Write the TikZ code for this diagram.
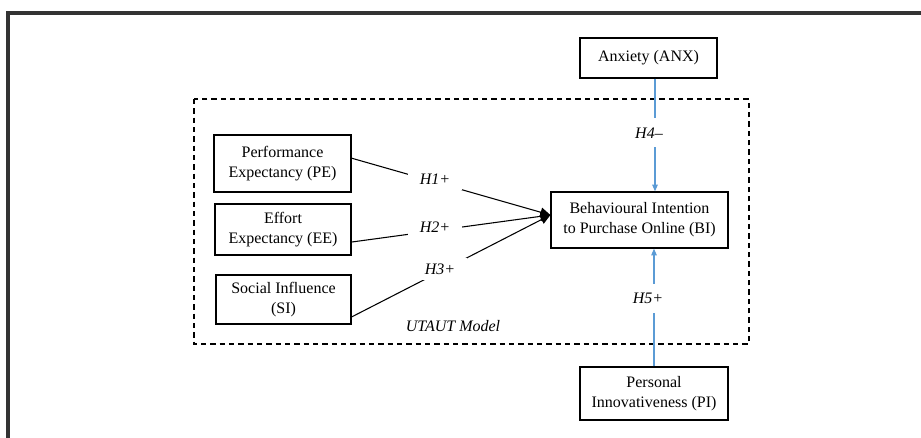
\documentclass[tikz,border=0pt]{standalone}
\usepackage{fontspec}
\setmainfont{Liberation Serif}[ItalicFont=Liberation Serif Italic, BoldFont=Liberation Serif Bold]
\usetikzlibrary{arrows.meta}
\definecolor{hypblue}{HTML}{5B9BD5}
\definecolor{framegray}{HTML}{333333}

\begin{document}
\begin{tikzpicture}[x=0.75pt, y=-0.75pt,
    font=\fontsize{12}{15}\selectfont,
    box/.style={draw, line width=0.9pt, align=center, inner sep=2pt},
    hyp/.style={fill=white, text=black, font=\fontsize{12}{15}\selectfont\itshape, inner xsep=9pt, inner ysep=4pt},
    vhyp/.style={hyp, inner xsep=3pt, inner ysep=7pt},
    link/.style={line width=0.8pt, -{Triangle[length=7.5pt, width=7pt]}},
    bluelink/.style={hypblue, line width=1pt, -{Triangle[length=5pt, width=4pt]}}]

    \useasboundingbox (0,0) rectangle (921,437);
    \draw[framegray, line width=2.6pt] (8,445) -- (8,13) -- (930,13);

    % UTAUT frame
    \draw[line width=0.9pt, dash pattern=on 4pt off 3pt] (194,99) rectangle (749,344);
    \node (utaut) at (453,326) {\textit{UTAUT Model}};

    \node[box, minimum width=102.75pt, minimum height=42.75pt] (pe) at (282.5,163.5) {Performance\\Expectancy (PE)};
    \node[box, minimum width=102pt, minimum height=38.25pt] (ee) at (283,229.5) {Effort\\Expectancy (EE)};
    \node[box, minimum width=101.25pt, minimum height=36.75pt] (si) at (283.5,299.5) {Social Influence\\(SI)};

    \node[box, minimum width=102.75pt, minimum height=30pt] (anx) at (648.5,58) {Anxiety (ANX)};
    \node[box, minimum width=132.75pt, minimum height=42pt] (bi) at (639.5,220) {Behavioural Intention\\to Purchase Online (BI)};
    \node[box, minimum width=111pt, minimum height=39.75pt] (pi) at (654,393.5) {Personal\\Innovativeness (PI)};

    \coordinate (tip) at ([yshift=3.75pt]bi.west);

    \draw[link] ([yshift=4pt]pe.east) -- node[hyp, pos=0.42, yshift=2.25pt] (h1) {H1+} (tip);
    \draw[link] ([yshift=-9.4pt]ee.east) -- node[hyp, pos=0.42, yshift=2.8pt] (h2) {H2+} (tip);
    \draw[link] ([yshift=-13.1pt]si.east) -- node[hyp, pos=0.445, yshift=2pt] (h3) {H3+} (tip);

    \coordinate (xanx) at (655,0);
    \coordinate (xpi) at (654,0);
    \draw[bluelink] (anx.south -| xanx) -- node[vhyp, pos=0.48, xshift=-4.5pt] (h4) {H4\textendash} (bi.north -| xanx);
    \draw[bluelink] (pi.north -| xpi) -- node[vhyp, pos=0.576, xshift=-4.5pt] (h5) {H5+} (bi.south -| xpi);
\end{tikzpicture}
\end{document}
